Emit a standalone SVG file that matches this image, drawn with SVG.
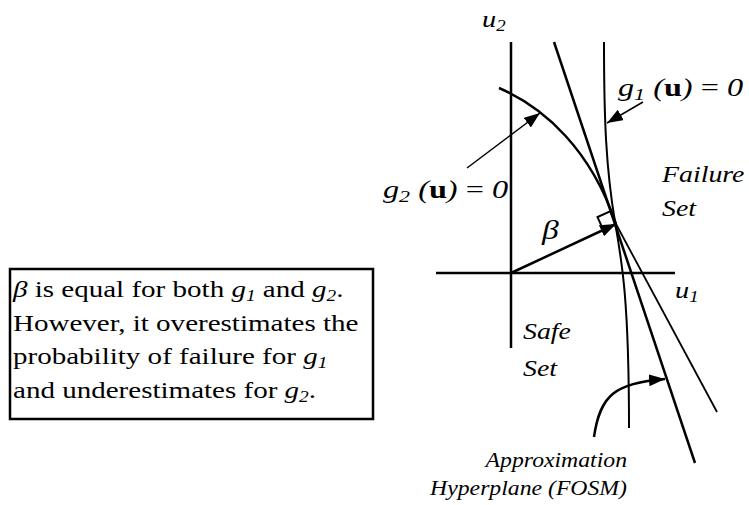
<svg xmlns="http://www.w3.org/2000/svg" width="749" height="505" viewBox="0 0 749 505">
<style>
text{font-family:"Liberation Serif","Times New Roman",serif;fill:#000}
.it{font-style:italic}
.lab{font-size:24px;font-style:italic}
.box{font-size:24px}
.sm{font-size:21px;font-style:italic}
.ln{fill:none;stroke:#000;stroke-linecap:butt}
</style>
<defs>
<marker id="ah" markerUnits="userSpaceOnUse" markerWidth="18" markerHeight="14" refX="16" refY="6" orient="auto">
<path d="M0,0 L16,6 L0,12 z" fill="#000"/>
</marker>
</defs>
<g id="axes">
<path class="ln" d="M511,42 V348" stroke-width="2.5"/>
<path class="ln" d="M436,273 H675" stroke-width="2.5"/>
</g>
<g id="curves">
<path id="fosm" class="ln" d="M554,42 L695,463" stroke-width="2.5"/>
<path id="g1" class="ln" d="M604,42 C604,120 606,168 615,222 C622,262 629,300 629,428" stroke-width="2"/>
<path id="g2" class="ln" d="M499,88 C545,108 591,150 616,224" stroke-width="2.5"/>
<path id="g2b" class="ln" d="M616,224 L717,412" stroke-width="1.8"/>
<polygon id="rightangle" points="616,224 603.3,229.8 597.5,217.1 610.2,211.3" fill="none" stroke="#000" stroke-width="2"/>
</g>
<g id="connectors">
<path class="ln" d="M511,273 L616,224" stroke-width="2.5" marker-end="url(#ah)"/>
<path class="ln" d="M467,168 L540,113" stroke-width="1.5" marker-end="url(#ah)"/>
<path class="ln" d="M643,102 L607,123" stroke-width="1.5" marker-end="url(#ah)"/>
<path class="ln" d="M594,437 C600,395 615,383 665,379" stroke-width="2.5" marker-end="url(#ah)"/>
</g>
<g id="labels">
<text class="lab" transform="translate(482 27) scale(1.18 1)">u<tspan font-size="16" dy="4">2</tspan></text>
<text class="lab" transform="translate(675 298) scale(1.18 1)">u<tspan font-size="16" dy="4">1</tspan></text>
<text class="lab" transform="translate(618 96) scale(1.29 1)" style="font-size:25px">g<tspan font-size="17" dy="4">1</tspan><tspan dy="-4"> (</tspan><tspan font-weight="bold" font-style="normal">u</tspan>) <tspan font-style="normal">=</tspan> 0</text>
<text class="lab" transform="translate(383 198) scale(1.29 1)" style="font-size:25px">g<tspan font-size="17" dy="4">2</tspan><tspan dy="-4"> (</tspan><tspan font-weight="bold" font-style="normal">u</tspan>) <tspan font-style="normal">=</tspan> 0</text>
<text class="lab" transform="translate(662 182) scale(1.16 1)">Failure</text>
<text class="lab" transform="translate(662 216) scale(1.16 1)">Set</text>
<text class="lab" transform="translate(523 339) scale(1.16 1)">Safe</text>
<text class="lab" transform="translate(523 376) scale(1.16 1)">Set</text>
<text class="lab" transform="translate(542 239) scale(1.2 1)" style="font-size:28px">β</text>
<text class="sm" text-anchor="end" transform="translate(627 467) scale(1.13 1)">Approximation</text>
<text class="sm" text-anchor="end" transform="translate(627 495) scale(1.13 1)">Hyperplane (FOSM)</text>
</g>
<g id="note">
<rect x="10" y="269" width="363" height="150" fill="none" stroke="#000" stroke-width="2.5"/>
<text class="box" transform="translate(13 297) scale(1.21 1)"><tspan class="it">β</tspan> is equal for both <tspan class="it">g</tspan><tspan class="it" font-size="16" dy="4">1</tspan><tspan dy="-4"> and </tspan><tspan class="it">g</tspan><tspan class="it" font-size="16" dy="4">2</tspan><tspan dy="-4">.</tspan></text>
<text class="box" transform="translate(13 331) scale(1.21 1)">However, it overestimates the</text>
<text class="box" transform="translate(13 364) scale(1.21 1)">probability of failure for <tspan class="it">g</tspan><tspan class="it" font-size="16" dy="4">1</tspan></text>
<text class="box" transform="translate(13 398) scale(1.21 1)">and underestimates for <tspan class="it">g</tspan><tspan class="it" font-size="16" dy="4">2</tspan><tspan dy="-4">.</tspan></text>
</g>
</svg>
